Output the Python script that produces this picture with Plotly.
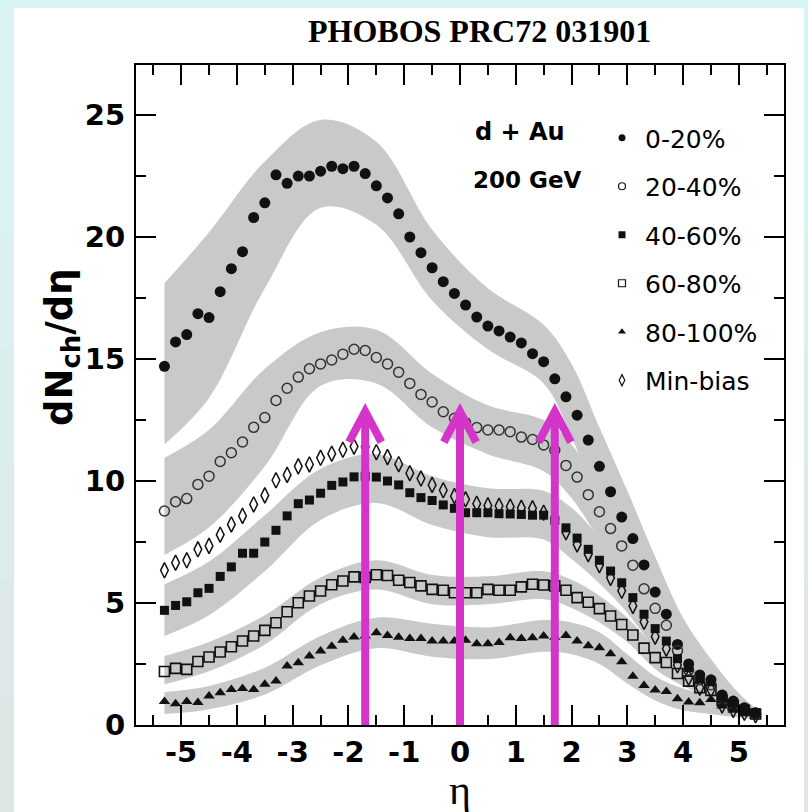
import plotly.graph_objects as go

# Pseudorapidity bin centres (0.2 wide bins)
eta = [-5.3, -5.1, -4.9, -4.7, -4.5, -4.3, -4.1, -3.9, -3.7, -3.5,
       -3.3, -3.1, -2.9, -2.7, -2.5, -2.3, -2.1, -1.9, -1.7, -1.5,
       -1.3, -1.1, -0.9, -0.7, -0.5, -0.3, -0.1, 0.1, 0.3, 0.5,
       0.7, 0.9, 1.1, 1.3, 1.5, 1.7, 1.9, 2.1, 2.3, 2.5,
       2.7, 2.9, 3.1, 3.3, 3.5, 3.7, 3.9, 4.1, 4.3, 4.5,
       4.7, 4.9, 5.1, 5.3]

# dNch/deta per centrality class
c0_20 = [14.7, 15.7, 16.0, 16.86, 16.7, 17.76, 18.7, 19.4, 20.8, 21.4,
         22.55, 22.2, 22.5, 22.5, 22.7, 22.9, 22.8, 22.9, 22.6, 22.1,
         21.6, 20.95, 20.0, 19.36, 18.74, 18.17, 17.69, 17.21, 16.72, 16.35,
         16.15, 15.9, 15.66, 15.22, 14.89, 14.19, 13.45, 12.7, 11.68, 10.6,
         9.56, 8.52, 7.64, 6.56, 5.45, 4.54, 3.3, 2.5, 2.05, 1.85,
         1.23, 0.98, 0.71, 0.5]
c20_40 = [8.77, 9.15, 9.28, 9.86, 10.2, 10.8, 11.16, 11.6, 12.2, 12.6,
          13.3, 13.8, 14.26, 14.6, 14.8, 14.96, 15.2, 15.4, 15.35, 15.06,
          14.8, 14.46, 14.0, 13.55, 13.24, 12.84, 12.57, 12.39, 12.19, 12.09,
          12.09, 12.02, 11.8, 11.7, 11.48, 11.26, 10.64, 10.16, 9.44, 8.74,
          8.05, 7.34, 6.55, 5.58, 4.78, 4.09, 3.05, 2.25, 1.85, 1.65,
          1.05, 0.85, 0.6, 0.45]
c40_60 = [4.7, 4.9, 5.05, 5.42, 5.6, 6.09, 6.48, 7.04, 7.04, 7.5,
          7.98, 8.57, 9.07, 9.22, 9.5, 9.82, 9.96, 10.17, 10.2, 10.16,
          10.0, 9.84, 9.52, 9.32, 9.2, 9.02, 8.88, 8.7, 8.7, 8.7,
          8.66, 8.65, 8.63, 8.6, 8.6, 8.39, 8.08, 7.66, 7.2, 6.75,
          6.31, 5.83, 5.22, 4.54, 3.95, 3.44, 2.72, 2.35, 1.9, 1.8,
          1.1, 0.9, 0.65, 0.5]
c60_80 = [2.19, 2.32, 2.28, 2.6, 2.79, 2.99, 3.21, 3.44, 3.65, 3.88,
          4.19, 4.64, 5.01, 5.29, 5.49, 5.75, 5.9, 6.07, 6.05, 6.16,
          6.13, 5.93, 5.84, 5.7, 5.56, 5.52, 5.42, 5.42, 5.42, 5.56,
          5.52, 5.52, 5.66, 5.77, 5.74, 5.7, 5.52, 5.22, 5.03, 4.77,
          4.47, 4.12, 3.69, 3.15, 2.76, 2.56, 2.11, 1.8, 1.53, 1.42,
          1.0, 0.8, 0.6, 0.45]
c80_100 = [0.96, 0.87, 0.96, 0.92, 1.19, 1.32, 1.46, 1.5, 1.46, 1.67,
           1.8, 2.42, 2.55, 2.83, 3.03, 3.23, 3.47, 3.61, 3.65, 3.78,
           3.67, 3.6, 3.55, 3.55, 3.44, 3.44, 3.44, 3.47, 3.33, 3.33,
           3.38, 3.58, 3.55, 3.58, 3.65, 3.6, 3.67, 3.44, 3.25, 3.17,
           2.92, 2.59, 2.0, 1.62, 1.43, 1.37, 1.08, 0.94, 0.91, 1.05,
           0.78, 0.6, 0.5, 0.45]
min_bias = [6.34, 6.65, 6.75, 7.2, 7.34, 7.8, 8.22, 8.57, 9.04, 9.41,
            10.03, 10.25, 10.6, 10.68, 10.95, 11.12, 11.28, 11.41, 11.4, 11.18,
            10.98, 10.69, 10.32, 10.1, 9.84, 9.62, 9.38, 9.25, 9.07, 9.0,
            8.98, 8.95, 8.9, 8.88, 8.7, 8.45, 7.9, 7.4, 7.0, 6.55,
            6.03, 5.5, 4.88, 4.23, 3.62, 3.13, 2.45, 1.94, 1.53, 1.45,
            0.8, 0.62, 0.5, 0.4]

# Systematic-error bands (upper / lower edges at a few eta nodes)
band_eta = [-5.3, -4.5, -3.5, -2.5, -1.5, -0.5, 0.5, 1.5, 2.0, 2.5, 3.0, 3.5, 4.0, 4.5, 5.0, 5.4]
band_hi_0_20 = [18.1, 20.2, 23.1, 24.8, 23.9, 20.3, 17.9, 16.4, 14.8, 12.2, 9.6, 6.9, 4.4, 2.7, 1.3, 0.5]
band_lo_0_20 = [11.5, 13.4, 17.9, 21.2, 20.5, 17.4, 15.4, 14.0, 11.8, 9.0, 6.6, 4.0, 2.0, 1.1, 0.5, 0.2]
band_hi_20_40 = [10.95, 12.1, 14.6, 16.1, 16.2, 14.4, 13.1, 12.5, 11.5, 9.8, 8.1, 5.9, 3.7, 2.3, 1.1, 0.5]
band_lo_20_40 = [6.97, 8.1, 10.6, 13.9, 14.0, 12.2, 11.1, 10.4, 9.3, 7.6, 6.0, 3.8, 2.0, 1.1, 0.5, 0.2]
band_hi_40_60 = [5.77, 6.7, 8.6, 10.5, 11.1, 10.2, 9.7, 9.6, 8.9, 7.7, 6.4, 4.8, 3.3, 2.3, 1.1, 0.55]
band_lo_40_60 = [3.65, 4.5, 6.3, 8.4, 9.1, 8.2, 7.7, 7.6, 6.8, 5.8, 4.6, 3.1, 1.9, 1.2, 0.5, 0.25]
band_hi_60_80 = [2.83, 3.4, 4.5, 6.05, 6.75, 6.15, 6.1, 6.3, 5.95, 5.3, 4.4, 3.2, 2.3, 1.7, 0.9, 0.5]
band_lo_60_80 = [1.67, 2.2, 3.3, 4.95, 5.55, 4.95, 4.95, 5.15, 4.8, 4.2, 3.4, 2.3, 1.6, 1.1, 0.5, 0.25]
band_hi_80_100 = [1.35, 1.6, 2.35, 3.65, 4.4, 4.15, 4.0, 4.3, 4.2, 3.8, 2.9, 2.0, 1.5, 1.2, 0.8, 0.5]
band_lo_80_100 = [0.45, 0.65, 1.25, 2.45, 3.15, 2.8, 2.7, 3.0, 2.9, 2.5, 1.7, 1.0, 0.6, 0.45, 0.3, 0.2]

legend_labels = ["0-20%", "20-40%", "40-60%", "60-80%", "80-100%", "Min-bias"]

# Arrows marking eta positions
arrow_eta = [-1.7, 0.0, 1.7]
arrow_tip = 12.85

x_ticks = [-5, -4, -3, -2, -1, 0, 1, 2, 3, 4, 5]
y_ticks = [0, 5, 10, 15, 20, 25]

# ---------------------------------------------------------------
W, H = 808, 812
L, R, T, B = 136, 784, 65, 725
X_RANGE = [-5.81, 5.81]
Y_RANGE = [0, 27.05]


def px_x(p):
    return (p - L) / (R - L)


def px_y(p):
    return (B - p) / (B - T)


BAND = "#c9c9c9"
INK = "#111111"

fig = go.Figure()

bands = [
    (band_lo_0_20, band_hi_0_20),
    (band_lo_20_40, band_hi_20_40),
    (band_lo_40_60, band_hi_40_60),
    (band_lo_60_80, band_hi_60_80),
    (band_lo_80_100, band_hi_80_100),
]
for lo, hi in bands:
    fig.add_trace(go.Scatter(x=band_eta, y=lo, mode="lines",
                             line=dict(width=0, shape="spline", smoothing=1.0),
                             hoverinfo="skip", showlegend=False))
    fig.add_trace(go.Scatter(x=band_eta, y=hi, mode="lines", fill="tonexty",
                             fillcolor=BAND,
                             line=dict(width=0, shape="spline", smoothing=1.0),
                             hoverinfo="skip", showlegend=False))

series = [
    (min_bias, dict(symbol="diamond-tall-open", size=11, color=INK, line=dict(width=1.5, color=INK))),
    (c0_20, dict(symbol="circle", size=11, color=INK)),
    (c20_40, dict(symbol="circle-open", size=10, color="#333333", line=dict(width=1.5, color="#333333"))),
    (c40_60, dict(symbol="square", size=9, color=INK)),
    (c60_80, dict(symbol="square-open", size=10, color=INK, line=dict(width=1.6, color=INK))),
    (c80_100, dict(symbol="triangle-up", size=10, color=INK)),
]
for vals, mk in series:
    fig.add_trace(go.Scatter(x=eta, y=vals, mode="markers", marker=mk,
                             showlegend=False, hoverinfo="skip"))

legend_markers = [
    dict(symbol="circle", size=7, color=INK),
    dict(symbol="circle-open", size=7, color=INK, line=dict(width=1.2, color=INK)),
    dict(symbol="square", size=7, color=INK),
    dict(symbol="square-open", size=7, color=INK, line=dict(width=1.2, color=INK)),
    dict(symbol="triangle-up", size=7, color=INK),
    dict(symbol="diamond-tall-open", size=8, color=INK, line=dict(width=1.2, color=INK)),
]
for i, (lab, mk) in enumerate(zip(legend_labels, legend_markers)):
    fig.add_trace(go.Scatter(x=[None], y=[None], mode="markers", marker=mk,
                             name=lab, legendgroup=lab, legendrank=i + 1,
                             showlegend=True))

# empty traces that bring up the top and right tick axes
fig.add_trace(go.Scatter(x=[None], y=[None], xaxis="x2", yaxis="y",
                         showlegend=False, hoverinfo="skip"))
fig.add_trace(go.Scatter(x=[None], y=[None], xaxis="x", yaxis="y2",
                         showlegend=False, hoverinfo="skip"))

# page backdrop: cyan fading to grey, with a white panel on top
shapes = []
backdrop = ["#d8f3f4", "#d9f2f3", "#daf0f1", "#dbeeee", "#dcebeb", "#dde8e8", "#dee6e6"]
step = H / len(backdrop)
for i, col in enumerate(backdrop):
    shapes.append(dict(type="rect", xref="paper", yref="paper",
                       x0=px_x(0), x1=px_x(W), y0=px_y((i + 1) * step + 1), y1=px_y(i * step),
                       fillcolor=col, line=dict(width=0), layer="below"))
shapes.append(dict(type="rect", xref="paper", yref="paper",
                   x0=px_x(14), x1=px_x(804), y0=px_y(813), y1=px_y(8),
                   fillcolor="white", line=dict(width=0), layer="below"))

ARROW = "#d435c8"
dx, dy = 0.29, 1.26
for e in arrow_eta:
    shapes.append(dict(type="line", xref="x", yref="y", x0=e, x1=e, y0=0, y1=arrow_tip - 0.15,
                       line=dict(color=ARROW, width=8), layer="above"))
    shapes.append(dict(type="path", xref="x", yref="y",
                       path=f"M {e - dx} {arrow_tip - dy} L {e} {arrow_tip} L {e + dx} {arrow_tip - dy}",
                       line=dict(color=ARROW, width=8), layer="above"))

annotations = [
    dict(text="<b>PHOBOS PRC72 031901</b>", x=px_x(479), y=px_y(31), xref="paper", yref="paper",
         showarrow=False, xanchor="center", yanchor="middle",
         font=dict(family="Liberation Serif", size=32, color="black")),
    dict(text="<b>d + Au</b>", x=px_x(520), y=px_y(132), xref="paper", yref="paper",
         showarrow=False, xanchor="center", yanchor="middle",
         font=dict(family="DejaVu Sans", size=24, color="black")),
    dict(text="<b>200 GeV</b>", x=px_x(527), y=px_y(180), xref="paper", yref="paper",
         showarrow=False, xanchor="center", yanchor="middle",
         font=dict(family="DejaVu Sans", size=23, color="black")),
    dict(text="<b>dN<sub>ch</sub>/dη</b>", x=px_x(62), y=px_y(347), xref="paper", yref="paper",
         showarrow=False, xanchor="center", yanchor="middle", textangle=-90,
         font=dict(family="DejaVu Sans", size=37, color="black")),
    dict(text="η", x=px_x(460), y=px_y(790), xref="paper", yref="paper",
         showarrow=False, xanchor="center", yanchor="middle",
         font=dict(family="Liberation Serif", size=42, color="black")),
]

tick_font = dict(family="DejaVu Sans", size=29, color="black", weight="bold")
x_minor = dict(dtick=0.5, tick0=0, ticks="inside", ticklen=10, tickwidth=1.5, tickcolor="black")
y_minor = dict(dtick=2.5, tick0=0, ticks="inside", ticklen=10, tickwidth=1.5, tickcolor="black")
tick_style = dict(ticks="inside", ticklen=20, tickwidth=1.5, tickcolor="black",
                  showgrid=False, zeroline=False)

fig.update_layout(
    width=W, height=H,
    margin=dict(l=L, r=W - R, t=T, b=H - B),
    paper_bgcolor="#d9f2f3", plot_bgcolor="white",
    xaxis=dict(range=X_RANGE, tickvals=x_ticks, ticktext=[str(v) for v in x_ticks],
               minor=x_minor, ticklabelstandoff=0, tickfont=tick_font,
               showline=True, linewidth=2, linecolor="black", mirror=True, **tick_style),
    yaxis=dict(range=Y_RANGE, tickvals=y_ticks, ticktext=[str(v) for v in y_ticks],
               minor=y_minor, ticklabelstandoff=3, tickfont=tick_font,
               showline=True, linewidth=2, linecolor="black", mirror=True, **tick_style),
    xaxis2=dict(range=X_RANGE, overlaying="x", side="top", anchor="y",
                tickvals=x_ticks, minor=x_minor, showticklabels=False,
                showline=False, **tick_style),
    yaxis2=dict(range=Y_RANGE, overlaying="y", side="right", anchor="x",
                tickvals=y_ticks, minor=y_minor, showticklabels=False,
                showline=False, **tick_style),
    legend=dict(x=px_x(599), y=px_y(115), xanchor="left", yanchor="top",
                font=dict(family="DejaVu Sans", size=25, color="black"),
                bgcolor="rgba(0,0,0,0)", tracegroupgap=13, itemwidth=36),
    shapes=shapes,
    annotations=annotations,
)

fig.write_html("out.html")
